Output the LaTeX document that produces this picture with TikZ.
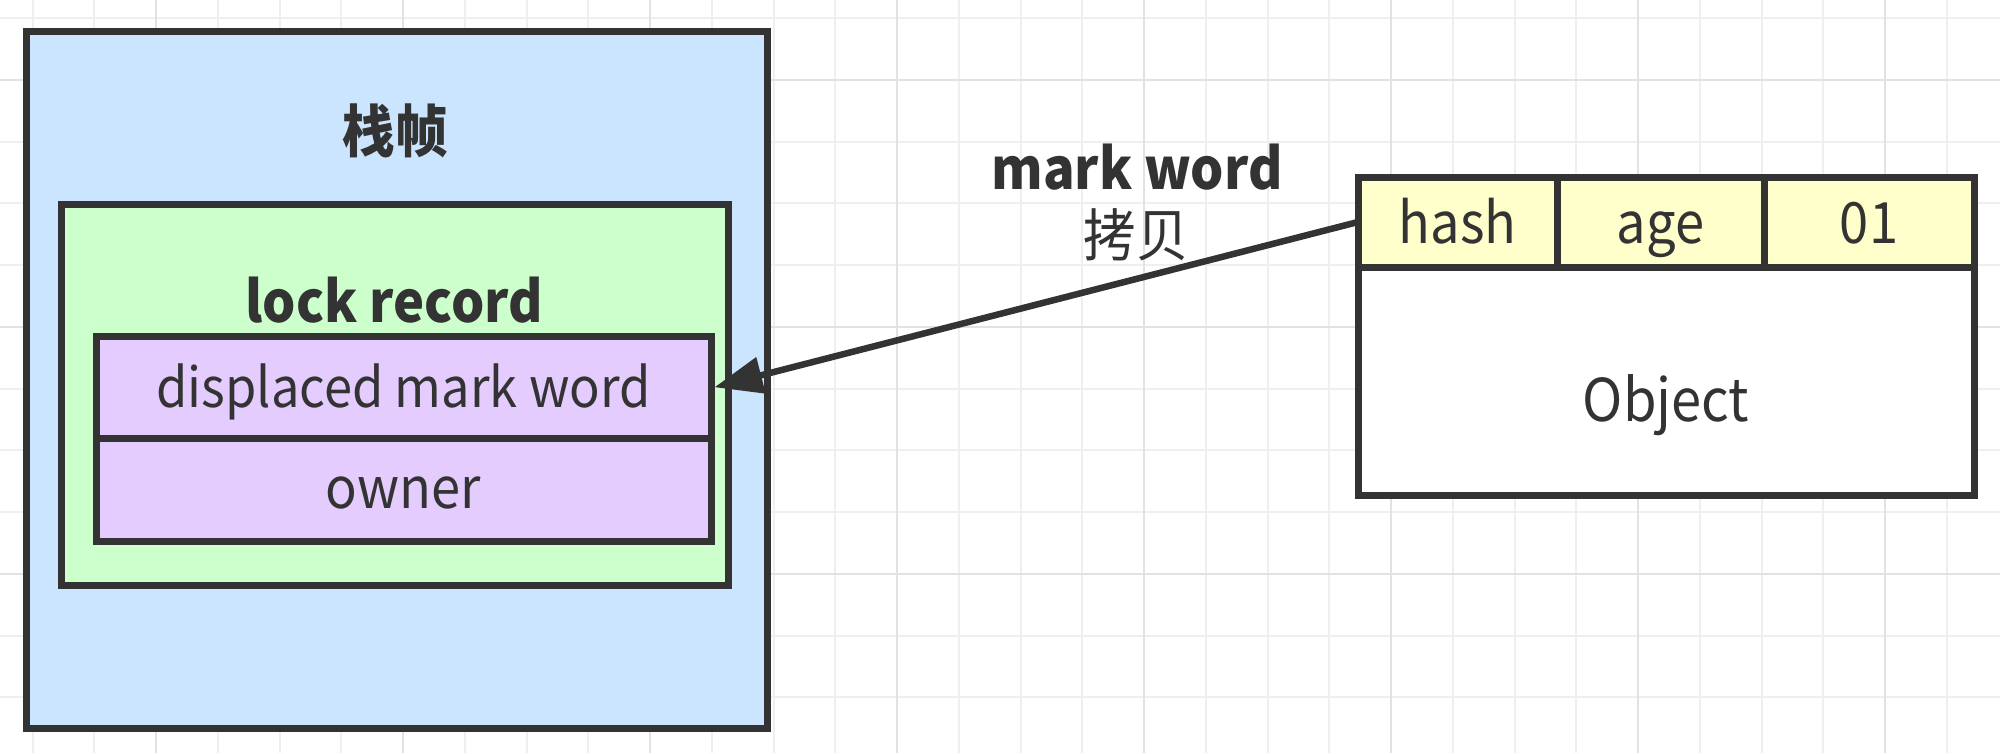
\documentclass[tikz,border=0pt]{standalone}
\usepackage{fontspec}
\setmainfont{Noto Sans CJK SC}[FakeStretch=0.92]
\usetikzlibrary{arrows.meta}
\definecolor{stk}{HTML}{333333}
\definecolor{txt}{HTML}{333333}
\definecolor{blueF}{HTML}{CCE5FF}
\definecolor{greenF}{HTML}{CCFFCC}
\definecolor{purpleF}{HTML}{E5CCFF}
\definecolor{yellowF}{HTML}{FFFFCC}
\definecolor{gridminor}{HTML}{EFEFEF}
\definecolor{gridmajor}{HTML}{E2E2E2}
\begin{document}
\begin{tikzpicture}[x=1pt,y=-1pt,
  box/.style={draw=stk,line width=7pt,rectangle,inner sep=0pt,outer sep=0pt},
  lbl/.style={text=txt,font=\fontsize{57}{60}\selectfont,inner sep=0pt,anchor=base},
  blbl/.style={text=txt,font=\fontsize{57}{60}\selectfont\bfseries,inner sep=0pt,anchor=base},
  conn/.style={draw=stk,line width=6.5pt,-{Triangle[length=48pt,width=36pt]}}]
\useasboundingbox (0,0) rectangle (2000,753);
\fill[white] (0,0) rectangle (2000,753);
% grid
\foreach \k in {0,...,31}{\draw[gridminor,line width=2pt] ({32.5+61.75*\k},0) -- ({32.5+61.75*\k},753);}
\foreach \k in {0,...,11}{\draw[gridminor,line width=2pt] (0,{18+61.75*\k}) -- (2000,{18+61.75*\k});}
\foreach \k in {0,...,7}{\draw[gridmajor,line width=2pt] ({156+247*\k},0) -- ({156+247*\k},753);}
\foreach \k in {0,...,2}{\draw[gridmajor,line width=2pt] (0,{79.75+247*\k}) -- (2000,{79.75+247*\k});}
% stack frame
\node[box,fill=blueF,minimum width=741pt,minimum height=697pt] (frame) at (396.5,379.5) {};
\node[blbl] (frametitle) at (395,152) {栈帧};
\node[box,fill=greenF,minimum width=667pt,minimum height=381pt] (lock) at (394.5,394.5) {};
\node[blbl] (locktitle) at (394,322) {lock record};
\node[box,fill=purpleF,minimum width=615pt,minimum height=102.5pt] (dmw) at (403.5,387.25) {};
\node[lbl,font=\fontsize{55}{60}\selectfont] (dmwtext) at (403.5,407) {displaced mark word};
\node[box,fill=purpleF,minimum width=615pt,minimum height=103pt] (owner) at (403.5,490) {};
\node[lbl] (ownertext) at (403.5,508) {owner};
% object
\node[box,fill=white,minimum width=616pt,minimum height=228pt] (obj) at (1666,381) {};
\node[lbl,font=\fontsize{59}{60}\selectfont] (objtext) at (1666,421) {Object};
\node[box,fill=yellowF,minimum width=199pt,minimum height=90pt] (hash) at (1457.5,222) {};
\node[box,fill=yellowF,minimum width=207pt,minimum height=90pt] (age) at (1660.5,222) {};
\node[box,fill=yellowF,minimum width=210pt,minimum height=90pt] (bits) at (1869,222) {};
\node[lbl] (hashtext) at (1457.5,243) {hash};
\node[lbl] (agetext) at (1660.5,243) {age};
\node[lbl] (bitstext) at (1869,243) {01};
% connector
\draw[conn] (hash.west) -- ([xshift=3.5pt]dmw.east);
\node[blbl] (cl1) at (1137,189) {mark word};
\node[lbl] (cl2) at (1136,256) {拷贝};
\end{tikzpicture}
\end{document}
